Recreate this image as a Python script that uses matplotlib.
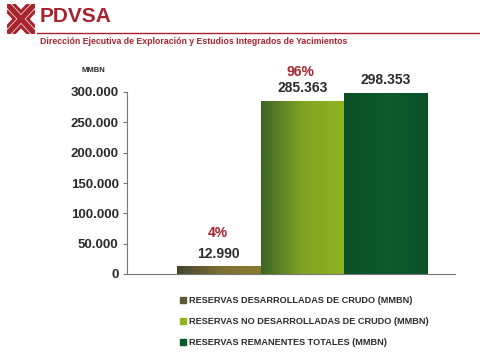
import numpy as np
import matplotlib.pyplot as plt
from matplotlib.colors import LinearSegmentedColormap
from matplotlib.lines import Line2D
from matplotlib.patches import Rectangle

# data (MMBN)
categories = ['RESERVAS DESARROLLADAS DE CRUDO (MMBN)',
              'RESERVAS NO DESARROLLADAS DE CRUDO (MMBN)',
              'RESERVAS REMANENTES TOTALES (MMBN)']
values = [12990, 285363, 298353]
value_labels = ['12.990', '285.363', '298.353']
pct_labels = ['4%', '96%', '']
yticks = [0, 50000, 100000, 150000, 200000, 250000, 300000]
ytick_labels = ['0', '50.000', '100.000', '150.000', '200.000', '250.000', '300.000']

gradients = [['#45452f', '#7a6e34', '#8c7c30'],
             ['#3d6424', '#7fa424', '#8fb41e'],
             ['#0b4f26', '#0d5a2c', '#0c5229']]
legend_colors = ['#5d5836', '#8fb41e', '#0d5a2c']

red = '#a8232e'
txt = '#2b2b2b'
font = 'Liberation Sans'

fig = plt.figure(figsize=(4.8, 3.6), dpi=100)
fig.patch.set_facecolor('white')

# header
fig.text(40 / 480, 1 - 17 / 360, 'PDVSA', color=red, fontsize=15, fontweight='bold',
         va='center', ha='left', family=font)
fig.add_artist(Line2D([37 / 480, 1.0], [1 - 33 / 360] * 2, color=red, lw=1.0))
fig.text(40 / 480, 1 - 41 / 360,
         'Dirección Ejecutiva de Exploración y Estudios Integrados de Yacimientos',
         color=red, fontsize=6.3, fontweight='bold', va='center', ha='left', family=font)

# logo (rough chevron mark)
lax = fig.add_axes([7 / 480, 1 - 34 / 360, 28 / 480, 30 / 360])
lax.set_xlim(-1.05, 1.05)
lax.set_ylim(-1.05, 1.05)
lax.axis('off')
for d in [0.12, 0.5]:
    px = np.array([-(1 - d), 0, 1 - d])
    py = np.array([1, d, 1])
    for rx, ry in [(px, py), (px, -py), (py, px), (-py, px)]:
        lax.plot(rx, ry, color=red, lw=2.2, solid_joinstyle='miter')

# chart
ax = fig.add_axes([127 / 480, 1 - 274 / 360, 328 / 480, 182 / 360])
x = np.arange(len(values))
bars = ax.bar(x, values, width=1.0, color='none', edgecolor='none', zorder=2)
for bar, cols in zip(bars, gradients):
    cmap = LinearSegmentedColormap.from_list('g', cols)
    grad = np.linspace(0, 1, 256).reshape(1, -1)
    x0, y0 = bar.get_x(), bar.get_y()
    im = ax.imshow(grad, cmap=cmap, aspect='auto', zorder=2,
                   extent=[x0, x0 + bar.get_width(), y0, y0 + bar.get_height()])
    im.set_clip_path(bar)

ax.set_xlim(-1.1, 2.83)
ax.set_ylim(0, 300000)
ax.set_yticks(yticks)
ax.set_yticklabels(ytick_labels)
ax.set_xticks([])
for sp in ['top', 'right']:
    ax.spines[sp].set_visible(False)
for sp in ['left', 'bottom']:
    ax.spines[sp].set_color('#777777')
    ax.spines[sp].set_linewidth(0.8)
ax.tick_params(axis='y', length=3, color='#777777', labelsize=9.5, labelcolor=txt, pad=3)
for lab in ax.get_yticklabels():
    lab.set_fontweight('bold')
    lab.set_family(font)
ax.set_facecolor('white')

# value and percentage labels
for xi, v, vl, pl in zip(x, values, value_labels, pct_labels):
    ax.annotate(vl, (xi, v), xytext=(0, 4), textcoords='offset points', ha='center',
                va='bottom', fontsize=10, fontweight='bold', color=txt, family=font)
    if pl:
        off = 19 if v < 100000 else 15.5
        ax.annotate(pl, (xi, v), xytext=(-1, off), textcoords='offset points', ha='center',
                    va='bottom', fontsize=10, fontweight='bold', color=red, family=font)

fig.text(81 / 480, 1 - 70 / 360, 'MMBN', fontsize=5.5, fontweight='bold', color=txt,
         va='center', ha='left', family=font)

# legend
handles = [Rectangle((0, 0), 1, 1, color=c) for c in legend_colors]
leg = fig.legend(handles, categories, loc='upper left',
                 bbox_to_anchor=(172 / 480, 1 - 288 / 360), frameon=False,
                 handlelength=0.6, handleheight=0.6, handletextpad=0.4,
                 labelspacing=1.3, prop={'size': 6.6, 'weight': 'bold', 'family': font})
for t in leg.get_texts():
    t.set_color(txt)

fig.savefig('out.png', dpi=100, facecolor='white')
